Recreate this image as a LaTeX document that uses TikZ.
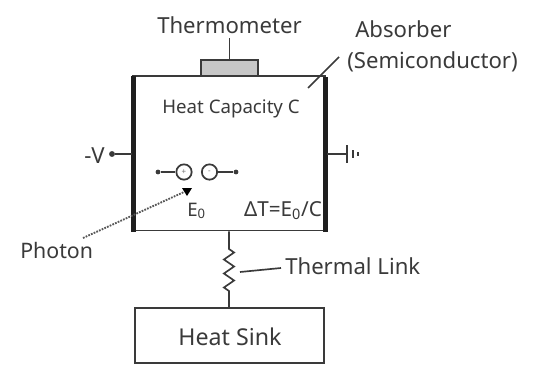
\documentclass[tikz,border=0pt]{standalone}
\usepackage{fontspec}
\setmainfont{Noto Sans}
\usetikzlibrary{decorations.pathmorphing,arrows.meta}
\definecolor{ink}{HTML}{3A3A3A}
\tikzset{
  wire/.style={draw=ink,line width=1.25pt},
  lbl/.style={text=ink,inner sep=0pt,font=\fontsize{16.6}{18}\selectfont},
  lblsmall/.style={text=ink,inner sep=0pt,font=\fontsize{14}{16}\selectfont},
  plate/.style={fill=black!88,draw=none},
  charge/.style={circle,draw=ink,line width=1.3pt,minimum size=11.5pt,inner sep=0pt,font=\fontsize{6}{6}\selectfont,text=ink!70},
  enddot/.style={circle,fill=ink,inner sep=0pt,minimum size=4.4pt},
}
\newcommand{\subz}{\textsubscript{0}}
\begin{document}
\begin{tikzpicture}[x=0.75pt,y=-0.75pt]
\useasboundingbox (0,0) rectangle (539,368);
% absorber
\node[draw=ink,line width=1.25pt,fill=white,minimum width=144pt,minimum height=116pt,inner sep=0pt] (abs) at (229,153.3) {};
\node[draw=ink,line width=1.2pt,fill=black!22,minimum width=42.75pt,minimum height=12pt,inner sep=0pt] (therm) at (229.5,68) {};
\fill[plate] (131.3,75.5) rectangle (136.3,231.5);
\fill[plate] (323,76.5) rectangle (327.5,231.5);
\node[lbl,anchor=base] (tl) at (229.5,33) {Thermometer};
\coordinate (tls) at (229.5,38);
\draw[wire] (tls) -- (therm.north);
\node[lbl,anchor=base west] (a1) at (355,37) {Absorber};
\node[lbl,anchor=base west] (a2) at (347,68) {(Semiconductor)};
\coordinate (a1s) at (339,57);
\coordinate (a1e) at (308,88);
\draw[wire] (a1s) -- (a1e);
\node[lblsmall,anchor=base] (hc) at (231,113) {Heat Capacity C};
% bias
\node[lbl,anchor=base east] (v) at (105,163) {-V};
\node[enddot] (vd) at (112,154) {};
\draw[wire] (vd) -- (132,154);
\coordinate (gs) at (327,154);
\coordinate (g1) at (347,154);
\draw[wire] (gs) -- (g1);
\draw[wire] (347,145) -- (347,163);
\draw[wire] (353,150) -- (353,158);
\draw[draw=ink,line width=1.5pt] (358,152) -- (358,156);
% charges
\node[charge] (p) at (184,172) {+};
\node[charge] (n) at (209.5,172) {-};
\node[enddot,minimum size=3.6pt] (pd) at (158,172) {};
\node[enddot,minimum size=3.6pt] (nd) at (236,172) {};
\draw[wire] (pd) -- (p);
\draw[wire] (n) -- (nd);
\node[lblsmall,anchor=base west] (e0) at (187,216) {E\subz};
\node[lblsmall,anchor=base,font=\fontsize{15.5}{18}\selectfont] (dt) at (283,216) {ΔT=E\subz/C};
% photon
\node[lbl,anchor=base west,font=\fontsize{16}{18}\selectfont] (ph) at (20,258) {Photon};
\coordinate (phs) at (83,238);
\coordinate (phe) at (184,192);
\draw[draw=ink!85,line width=1.4pt,dash pattern=on 1.3pt off 0.9pt] (phs) -- (phe);
\fill[black] (182,188) -- (192,188) -- (187,196) -- cycle;
% heat sink
\node[draw=ink,line width=1.25pt,minimum width=141.75pt,minimum height=41pt,inner sep=0pt] (hs) at (229.5,335.5) {};
\node[lbl,anchor=base,font=\fontsize{17.4}{20}\selectfont] (hst) at (230,345) {Heat Sink};
% link
\coordinate (ztop) at (229,249);
\coordinate (zbot) at (229,297);
\draw[wire] (abs.south -| ztop) -- (ztop) decorate[decoration={zigzag,segment length=10.5,amplitude=3.8}]{-- (zbot)} -- (hs.north -| zbot);
\node[lbl,anchor=base west] (lt) at (285,274) {Thermal Link};
\coordinate (ls) at (240,272);
\coordinate (le) at (281,268);
\draw[wire] (ls) -- (le);
\end{tikzpicture}
\end{document}
